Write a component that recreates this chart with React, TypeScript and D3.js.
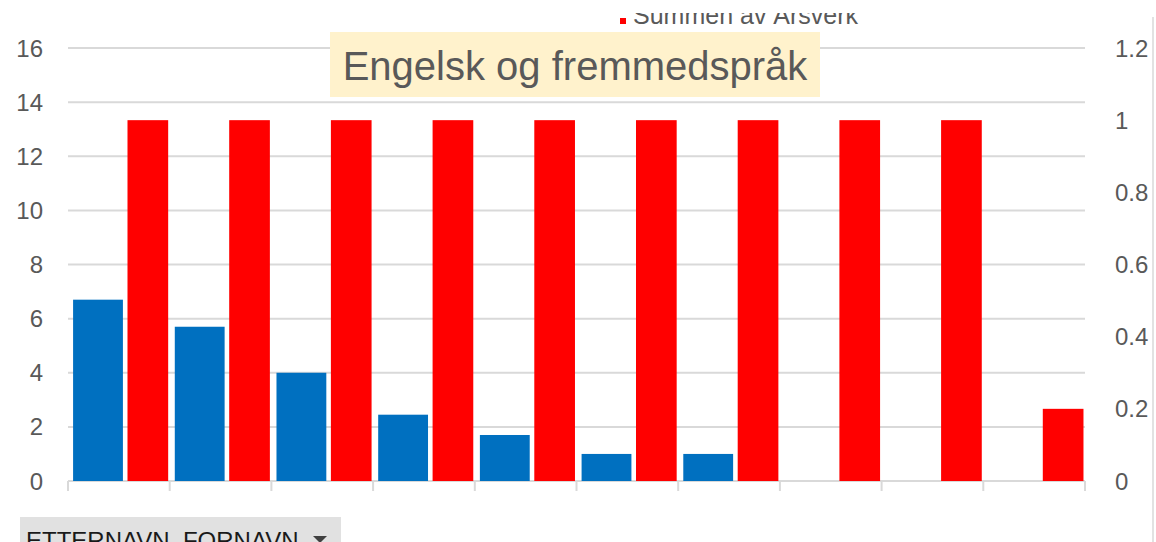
import React, { useEffect, useRef } from 'react';
import * as d3 from 'd3';

// values
const categories = ['P1', 'P2', 'P3', 'P4', 'P5', 'P6', 'P7', 'P8', 'P9', 'P10'];
const antall = [6.7, 5.7, 4.0, 2.45, 1.7, 1.0, 1.0, 0, 0, 0];
const arsverk = [1, 1, 1, 1, 1, 1, 1, 1, 1, 0.2];
const leftTicks = [0, 2, 4, 6, 8, 10, 12, 14, 16];
const rightTicks = [0, 0.2, 0.4, 0.6, 0.8, 1, 1.2];

const title = 'Engelsk og fremmedspråk';
const legendLabel = 'Summen av Årsverk';
const filterLabel = 'ETTERNAVN_FORNAVN';

const FONT = '"Liberation Sans", Arial, sans-serif';

const App = () => {
  const svgRef = useRef<SVGSVGElement>(null);

  useEffect(() => {
    const svg = d3.select(svgRef.current);
    svg.selectAll('*').remove();

    const width = 1156;
    const height = 542;
    const plot = { left: 68, right: 1085, top: 48, bottom: 481 };

    const x = d3.scaleBand<string>()
      .domain(categories)
      .range([plot.left, plot.right])
      .padding(0);

    // position inside one category slot (fraction of the slot)
    const sub = d3.scaleLinear().domain([0, 1]).range([0, x.bandwidth()]);

    const yL = d3.scaleLinear().domain([0, 16]).range([plot.bottom, plot.top]);
    const yR = d3.scaleLinear().domain([0, 1.2]).range([plot.bottom, plot.top]);

    // gridlines
    svg.append('g')
      .selectAll('line')
      .data(leftTicks)
      .enter().append('line')
      .attr('x1', plot.left)
      .attr('x2', plot.right)
      .attr('y1', d => yL(d))
      .attr('y2', d => yL(d))
      .attr('stroke', '#d9d9d9')
      .attr('stroke-width', 2);

    // left tick labels
    svg.append('g')
      .selectAll('text')
      .data(leftTicks)
      .enter().append('text')
      .attr('x', 43)
      .attr('y', d => yL(d) + 8.5)
      .attr('text-anchor', 'end')
      .attr('font-family', FONT)
      .attr('font-size', 24)
      .attr('fill', '#595959')
      .text(d => d);

    // right tick labels
    svg.append('g')
      .selectAll('text')
      .data(rightTicks)
      .enter().append('text')
      .attr('x', 1115)
      .attr('y', d => yR(d) + 8.5)
      .attr('text-anchor', 'start')
      .attr('font-family', FONT)
      .attr('font-size', 24)
      .attr('fill', '#595959')
      .text(d => String(+d.toFixed(1)));

    // category tick marks
    const bounds = categories.map(c => x(c) as number).concat([plot.right]);
    svg.append('g')
      .selectAll('line')
      .data(bounds)
      .enter().append('line')
      .attr('x1', d => d)
      .attr('x2', d => d)
      .attr('y1', plot.bottom)
      .attr('y2', plot.bottom + 10)
      .attr('stroke', '#d9d9d9')
      .attr('stroke-width', 2);

    // blue bars
    svg.append('g')
      .selectAll('rect')
      .data(categories)
      .enter().append('rect')
      .attr('x', d => (x(d) as number) + sub(0.05))
      .attr('width', sub(0.54) - sub(0.05))
      .attr('y', (d, i) => yL(antall[i]))
      .attr('height', (d, i) => yL(0) - yL(antall[i]))
      .attr('fill', '#0070c0');

    // red bars
    svg.append('g')
      .selectAll('rect')
      .data(categories)
      .enter().append('rect')
      .attr('x', d => (x(d) as number) + sub(0.585))
      .attr('width', sub(0.985) - sub(0.585))
      .attr('y', (d, i) => yR(arsverk[i]))
      .attr('height', (d, i) => yR(0) - yR(arsverk[i]))
      .attr('fill', '#ff0000');

    // title box
    svg.append('rect')
      .attr('x', 330)
      .attr('y', 32)
      .attr('width', 490)
      .attr('height', 65)
      .attr('fill', '#fff2cc');
    svg.append('text')
      .attr('x', 575)
      .attr('y', 80)
      .attr('text-anchor', 'middle')
      .attr('font-family', FONT)
      .attr('font-size', 40)
      .attr('fill', '#595959')
      .text(title);

    // legend (its top is cut off in the original)
    svg.append('rect')
      .attr('x', 620)
      .attr('y', 18)
      .attr('width', 6)
      .attr('height', 6)
      .attr('fill', '#ff0000');
    svg.append('text')
      .attr('x', 633)
      .attr('y', 24)
      .attr('font-family', FONT)
      .attr('font-size', 25)
      .attr('fill', '#595959')
      .text(legendLabel);
    svg.append('rect')
      .attr('x', 600)
      .attr('y', 0)
      .attr('width', 300)
      .attr('height', 13)
      .attr('fill', '#fff');

    // right border line
    svg.append('line')
      .attr('x1', 1153)
      .attr('x2', 1153)
      .attr('y1', 17)
      .attr('y2', height)
      .attr('stroke', '#d9d9d9')
      .attr('stroke-width', 1.5);

    // filter button
    svg.append('rect')
      .attr('x', 20)
      .attr('y', 517)
      .attr('width', 321)
      .attr('height', 30)
      .attr('fill', '#e1e1e1');
    svg.append('text')
      .attr('x', 26)
      .attr('y', 549)
      .attr('font-family', FONT)
      .attr('font-size', 24)
      .attr('fill', '#1a1a1a')
      .text(filterLabel);
    svg.append('path')
      .attr('d', 'M313,536 L327,536 L320,543 Z')
      .attr('fill', '#404040');

    svg.attr('width', width).attr('height', height);
  }, []);

  return (
    <svg
      ref={svgRef}
      width={1156}
      height={542}
      style={{ position: 'absolute', left: 0, top: 0, background: '#fff' }}
    />
  );
};

export default App;
